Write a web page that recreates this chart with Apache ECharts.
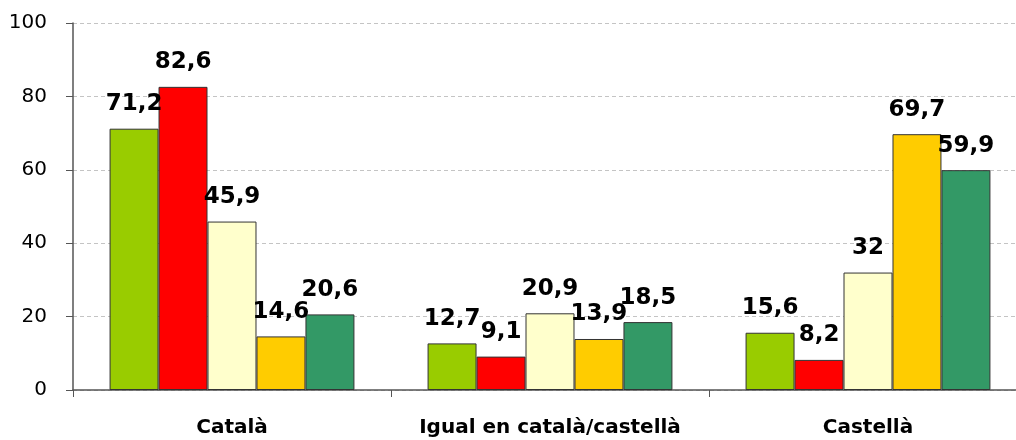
<!DOCTYPE html>
<html>
<head>
<meta charset="utf-8">
<script src="https://cdn.jsdelivr.net/npm/echarts@6/dist/echarts.min.js"></script>
<style>
    html, body { margin: 0; padding: 0; background: #fff; }
    #chart { width: 1016px; height: 440px; }
</style>
</head>
<body>
<div id="chart"></div>
<script>
var categories = ['Català', 'Igual en català/castellà', 'Castellà'];
var serie1 = [71.2, 12.7, 15.6];
var serie2 = [82.6, 9.1, 8.2];
var serie3 = [45.9, 20.9, 32];
var serie4 = [14.6, 13.9, 69.7];
var serie5 = [20.6, 18.5, 59.9];
var yTicks = [0, 20, 40, 60, 80, 100];

var colors = ['#99cc00', '#ff0000', '#ffffcc', '#ffcc00', '#339966'];
var font = 'DejaVu Sans';

function barSeries(name, data, i) {
    return {
        name: name,
        type: 'bar',
        data: data,
        barGap: '0%',
        barCategoryGap: '23%',
        itemStyle: {
            color: colors[i],
            borderColor: '#333',
            borderWidth: 1
        },
        label: {
            show: true,
            position: 'top',
            distance: 13,
            fontFamily: font,
            fontWeight: 'bold',
            fontSize: 23,
            color: '#000',
            formatter: function (p) {
                return String(p.value).replace('.', ',');
            }
        }
    };
}

document.addEventListener("DOMContentLoaded", () => {
    var chart = echarts.init(document.querySelector("#chart"));
    chart.setOption({
        animation: false,
        grid: {
            left: 73,
            right: -11,
            top: 23,
            bottom: 50,
            outerBoundsMode: 'none'
        },
        xAxis: {
            type: 'category',
            data: categories,
            axisLine: { lineStyle: { color: '#555', width: 1.5 } },
            axisTick: { show: true, length: 7, lineStyle: { color: '#555' } },
            axisLabel: {
                interval: 0,
                margin: 28,
                fontFamily: font,
                fontWeight: 'bold',
                fontSize: 20,
                color: '#000'
            }
        },
        yAxis: {
            type: 'value',
            min: yTicks[0],
            max: yTicks[yTicks.length - 1],
            interval: 20,
            axisLine: { show: true, lineStyle: { color: '#555', width: 1.5 } },
            axisTick: { show: true, length: 7, lineStyle: { color: '#555' } },
            axisLabel: {
                margin: 26,
                fontFamily: font,
                fontSize: 20,
                color: '#000'
            },
            splitLine: {
                show: true,
                lineStyle: { color: '#c4c4c4', type: [4, 3] }
            }
        },
        series: [
            barSeries('Sèrie 1', serie1, 0),
            barSeries('Sèrie 2', serie2, 1),
            barSeries('Sèrie 3', serie3, 2),
            barSeries('Sèrie 4', serie4, 3),
            barSeries('Sèrie 5', serie5, 4)
        ]
    });
});
</script>
</body>
</html>
